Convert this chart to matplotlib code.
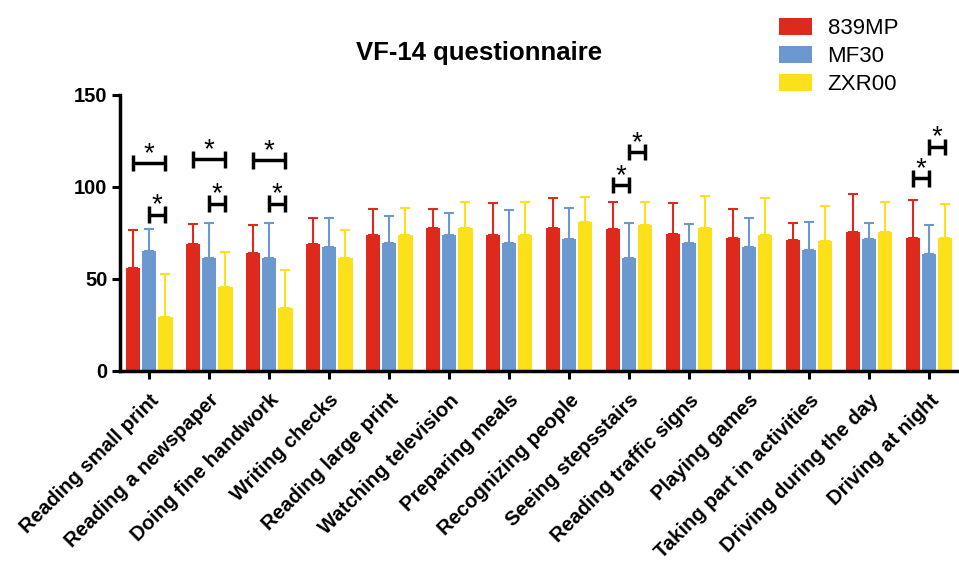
import matplotlib
matplotlib.use("Agg")
import matplotlib.pyplot as plt
from matplotlib.patches import Patch
import numpy as np

plt.rcParams['font.family'] = ['Liberation Sans', 'DejaVu Sans']

categories = ["Reading small print", "Reading a newspaper", "Doing fine handwork",
              "Writing checks", "Reading large print", "Watching television",
              "Preparing meals", "Recognizing people", "Seeing stepsstairs",
              "Reading traffic signs", "Playing games", "Taking part in activities",
              "Driving during the day", "Driving at night"]
series_names = ["839MP", "MF30", "ZXR00"]

mean_839MP = [56.0, 69.2, 64.2, 69.2, 74.0, 77.6, 74.0, 77.6, 77.4, 74.2, 72.5, 71.0, 75.8, 72.5]
sd_839MP = [20.5, 10.6, 15.0, 14.2, 14.3, 10.3, 17.1, 16.6, 14.2, 16.9, 15.3, 9.2, 20.3, 20.2]
mean_MF30 = [65.4, 61.2, 61.2, 67.6, 69.8, 73.8, 69.8, 71.8, 61.2, 69.8, 67.6, 65.6, 71.8, 63.6]
sd_MF30 = [12.0, 19.0, 19.0, 15.6, 14.3, 12.0, 17.8, 16.9, 19.1, 10.2, 15.4, 15.6, 8.7, 15.6]
mean_ZXR00 = [29.3, 45.6, 34.5, 61.4, 74.0, 77.6, 74.0, 81.1, 79.4, 77.6, 74.0, 70.5, 75.8, 72.4]
sd_ZXR00 = [23.2, 19.1, 20.4, 15.3, 14.7, 14.4, 17.6, 13.6, 12.4, 17.4, 20.0, 19.3, 16.0, 18.5]

# significance brackets: (category index, series a, series b, height)
sig_brackets = [(0, 0, 2, 113), (0, 1, 2, 85),
                (1, 0, 2, 115), (1, 1, 2, 91),
                (2, 0, 2, 114.5), (2, 1, 2, 91),
                (8, 0, 1, 101), (8, 1, 2, 119),
                (13, 0, 1, 104.7), (13, 1, 2, 121.8)]

colors = ['#DD2A1C', '#6A98CF', '#FCE11A']
means = [mean_839MP, mean_MF30, mean_ZXR00]
sds = [sd_839MP, sd_MF30, sd_ZXR00]

fig = plt.figure(figsize=(9.59, 5.61), dpi=100)
ax = fig.add_axes([0.125, 0.3387, 0.873, 0.492])

x = np.arange(len(categories))
offset = 0.27
width = 0.24
for i in range(3):
    pos = x + (i - 1) * offset
    ax.bar(pos, means[i], width=width, color=colors[i], edgecolor='none', zorder=2)
    ax.errorbar(pos, means[i], yerr=[np.zeros(len(x)), sds[i]], fmt='none',
                ecolor=colors[i], elinewidth=1.5, capsize=3.5, capthick=1.5, zorder=1)

for ci, a, b, h in sig_brackets:
    xa = ci + (a - 1) * offset
    xb = ci + (b - 1) * offset
    ax.plot([xa, xb], [h, h], color='black', lw=2.5, solid_capstyle='butt')
    for xx in (xa, xb):
        ax.plot([xx, xx], [h - 4.5, h + 4.5], color='black', lw=2.5, solid_capstyle='butt')
    ax.text((xa + xb) / 2, h + 5.0, '*', ha='center', va='center', fontsize=20, color='black')

ax.set_xlim(-0.49, 13.47)
ax.set_ylim(0, 150)
ax.set_yticks([0, 50, 100, 150])
ax.set_xticks(x)
ax.set_xticklabels(categories, rotation=45, ha='right', va='top', rotation_mode='anchor',
                   fontsize=14.6, fontweight='bold')
for lab in ax.get_yticklabels():
    lab.set_fontweight('bold')
    lab.set_fontsize(14.5)
ax.tick_params(axis='both', direction='out', length=6, width=2.2)
ax.tick_params(axis='y', pad=3)
ax.tick_params(axis='x', pad=8)
for s in ['top', 'right']:
    ax.spines[s].set_visible(False)
for s in ['left', 'bottom']:
    ax.spines[s].set_linewidth(2.5)

fig.text(0.5, 0.905, 'VF-14 questionnaire', ha='center', va='center', fontsize=18.5, fontweight='bold')

handles = [Patch(facecolor=c, edgecolor='none') for c in colors]
fig.legend(handles, series_names, loc='upper left', bbox_to_anchor=(0.805, 0.98),
           frameon=False, fontsize=16, handlelength=1.5, handleheight=0.8,
           handletextpad=0.7, labelspacing=0.3, borderaxespad=0.0, borderpad=0.3)

fig.savefig('out.png', dpi=100)
